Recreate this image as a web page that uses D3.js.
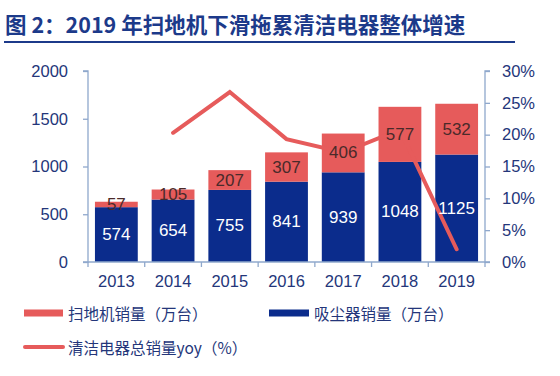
<!DOCTYPE html>
<html><head><meta charset="utf-8">
<script src="https://cdn.jsdelivr.net/npm/d3@7"></script>
<style>
body{margin:0;background:#fff;}
svg{display:block;}
</style></head>
<body>
<svg id="c" width="560" height="376"></svg>
<script>
const years = ["2013","2014","2015","2016","2017","2018","2019"];
const vacuum = [574,654,755,841,939,1048,1125];
const robot = [57,105,207,307,406,577,532];
const yoy = [null,20.3,26.7,19.3,17.2,20.8,2.0];
const leftTicks = [0,500,1000,1500,2000];
const rightTicks = [0,5,10,15,20,25,30];

const RED="#E65B5B", BLUE="#0B2C8C", AXIS="#8FA8CC", TXT="#24367A", NAVY="#1C3A8A";
const svg = d3.select("#c");
const font = "'Liberation Sans', Arial, sans-serif";
const cjk = "'Noto Sans CJK SC', 'Liberation Sans', sans-serif";

// title
svg.append("text").attr("x",5).attr("y",23).attr("dominant-baseline","central")
  .attr("font-family",cjk).attr("font-weight","bold").attr("font-size",21.5)
  .attr("fill",NAVY).text("图 2：2019 年扫地机下滑拖累清洁电器整体增速");
svg.append("line").attr("x1",4).attr("x2",515).attr("y1",42).attr("y2",42)
  .attr("stroke",NAVY).attr("stroke-width",2.2);

const x = d3.scaleBand().domain(years).range([88,485]).paddingInner(0.245).paddingOuter(0.1225);
const y = d3.scaleLinear().domain([0,2000]).range([262,71]);
const y2 = d3.scaleLinear().domain([0,30]).range([262,71]);

// bars
const g = svg.append("g");
g.selectAll(".b").data(years).join("rect")
  .attr("x",d=>x(d)).attr("width",x.bandwidth())
  .attr("y",(d,i)=>y(vacuum[i])).attr("height",(d,i)=>y(0)-y(vacuum[i])).attr("fill",BLUE);
g.selectAll(".r").data(years).join("rect")
  .attr("x",d=>x(d)).attr("width",x.bandwidth())
  .attr("y",(d,i)=>y(vacuum[i]+robot[i])).attr("height",(d,i)=>y(vacuum[i])-y(vacuum[i]+robot[i])).attr("fill",RED);

// line
const pts = years.map((d,i)=>({x:x(d)+x.bandwidth()/2,v:yoy[i]})).filter(p=>p.v!==null);
svg.append("path").datum(pts)
  .attr("d",d3.line().x(p=>p.x).y(p=>y2(p.v)))
  .attr("fill","none").attr("stroke",RED).attr("stroke-width",4).attr("stroke-linecap","round").attr("stroke-linejoin","miter");

// labels
svg.selectAll(".lv").data(years).join("text")
  .attr("x",d=>x(d)+x.bandwidth()/2).attr("y",(d,i)=>(y(0)+y(vacuum[i]))/2)
  .attr("text-anchor","middle").attr("dominant-baseline","central")
  .attr("font-family",font).attr("font-size",17).attr("fill","#fff").text((d,i)=>vacuum[i]);
svg.selectAll(".lr").data(years).join("text")
  .attr("x",d=>x(d)+x.bandwidth()/2).attr("y",(d,i)=>(y(vacuum[i])+y(vacuum[i]+robot[i]))/2)
  .attr("text-anchor","middle").attr("dominant-baseline","central")
  .attr("font-family",font).attr("font-size",17).attr("fill","#4a2a2a").text((d,i)=>robot[i]);

// axes
const ax = svg.append("g").attr("transform","translate(88,0)")
  .call(d3.axisLeft(y).tickValues(leftTicks).tickSize(5).tickPadding(15).tickFormat(d3.format("d")));
const ax2 = svg.append("g").attr("transform","translate(485,0)")
  .call(d3.axisRight(y2).tickValues(rightTicks).tickSize(5).tickPadding(12).tickFormat(d=>d+"%"));
const axb = svg.append("g").attr("transform","translate(0,262)")
  .call(d3.axisBottom(x).tickSize(0).tickPadding(13));
// boundary ticks on bottom axis
svg.append("g").selectAll("line").data(d3.range(years.length+1)).join("line")
  .attr("x1",i=>88+i*(485-88)/years.length).attr("x2",i=>88+i*(485-88)/years.length)
  .attr("y1",262).attr("y2",267).attr("stroke",AXIS).attr("stroke-width",1.3);
[ax,ax2,axb].forEach(a=>{
  a.select(".domain").attr("stroke",AXIS).attr("stroke-width",1.3);
  a.selectAll(".tick line").attr("stroke",AXIS).attr("stroke-width",1.3);
  a.selectAll("text").attr("font-family",font).attr("font-size",16.5).attr("fill",TXT);
});
ax.select(".domain").attr("d","M-5,71H0V262H-5");
ax2.select(".domain").attr("d","M5,71H0V262H5");
axb.select(".domain").attr("d","M88,0H485");

// legend
const lg = svg.append("g").attr("font-family",cjk).attr("font-size",15.5).attr("fill",TXT);
lg.append("rect").attr("x",24).attr("y",309.5).attr("width",39).attr("height",7).attr("fill",RED);
lg.append("text").attr("x",68).attr("y",313).attr("dominant-baseline","central").text("扫地机销量（万台）");
lg.append("rect").attr("x",269).attr("y",309.5).attr("width",40).attr("height",7).attr("fill",BLUE);
lg.append("text").attr("x",314).attr("y",313).attr("dominant-baseline","central").text("吸尘器销量（万台）");
lg.append("line").attr("x1",25).attr("x2",63).attr("y1",347).attr("y2",347)
  .attr("stroke",RED).attr("stroke-width",4).attr("stroke-linecap","round");
lg.append("text").attr("x",68).attr("y",347).attr("dominant-baseline","central").text("清洁电器总销量yoy（%）");
</script>
</body></html>
